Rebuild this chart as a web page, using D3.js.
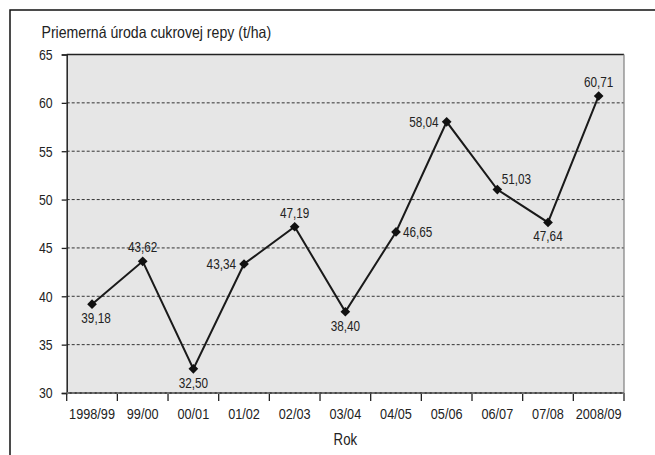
<!DOCTYPE html>
<html><head><meta charset="utf-8">
<script src="https://cdn.jsdelivr.net/npm/d3@7"></script>
<style>
html,body{margin:0;padding:0;background:#fff;overflow:hidden}
svg text{font-family:"Liberation Sans",Arial,sans-serif;fill:#222}
</style></head>
<body><svg id="c" width="655" height="455"></svg>
<script>
const categories = ["1998/99","99/00","00/01","01/02","02/03","03/04","04/05","05/06","06/07","07/08","2008/09"];
const values = [39.18,43.62,32.50,43.34,47.19,38.40,46.65,58.04,51.03,47.64,60.71];
const labelPos = ["below","above","below","left","above","below","right","left","aboveRight","below","above"];
const yTicks = [30,35,40,45,50,55,60,65];
const title = "Priemerná úroda cukrovej repy (t/ha)";
const xTitle = "Rok";

const svg = d3.select("#c");
const L = 66.7, R = 624, T = 54.5, B = 393;

function condense(sel, f){
  sel.each(function(){
    const t = d3.select(this);
    const ax = +t.attr("x") || 0, ay = +t.attr("y") || 0;
    t.attr("transform",`translate(${ax},${ay}) scale(${f},1) translate(${-ax},${-ay})`);
  });
}

svg.append("rect").attr("x",10).attr("y",10).attr("width",700).attr("height",500)
  .attr("fill","none").attr("stroke","#111").attr("stroke-width",1.5);

const x = d3.scaleBand().domain(categories).range([L,R]);
const y = d3.scaleLinear().domain([30,65]).range([B,T]);

svg.append("rect").attr("x",L).attr("y",T).attr("width",R-L).attr("height",B-T).attr("fill","#e6e6e6");

svg.append("g").selectAll("line").data(yTicks.filter(v=>v>30&&v<65)).join("line")
  .attr("x1",L).attr("x2",R).attr("y1",d=>y(d)).attr("y2",d=>y(d))
  .attr("stroke","#333").attr("stroke-width",1).attr("stroke-dasharray","3,2");

svg.append("line").attr("x1",L).attr("x2",R).attr("y1",T).attr("y2",T).attr("stroke","#222").attr("stroke-width",1.3);
svg.append("line").attr("x1",R).attr("x2",R).attr("y1",T).attr("y2",B).attr("stroke","#888").attr("stroke-width",1.3);

const ya = svg.append("g").attr("transform",`translate(${L},0)`)
  .call(d3.axisLeft(y).tickValues(yTicks).tickSize(5).tickPadding(9).tickFormat(d3.format("d")));
ya.select(".domain").attr("stroke","#222").attr("stroke-width",1.5);
ya.selectAll(".tick line").attr("stroke","#222").attr("stroke-width",1.3);
ya.selectAll("text").attr("font-size",15).attr("fill","#222").attr("font-family","Liberation Sans, Arial, sans-serif");
condense(ya.selectAll("text"),0.82);

const xa = svg.append("g").attr("transform",`translate(0,${B})`)
  .call(d3.axisBottom(x).tickSize(0).tickPadding(15));
xa.select(".domain").remove();
xa.selectAll("text").attr("font-size",15.5).attr("fill","#222").attr("font-family","Liberation Sans, Arial, sans-serif");
condense(xa.selectAll("text"),0.82);

const bounds = categories.map(c=>x(c)).concat([x(categories[categories.length-1])+x.bandwidth()]);
svg.append("g").selectAll("line").data(bounds).join("line")
  .attr("x1",d=>d).attr("x2",d=>d).attr("y1",B).attr("y2",B+8)
  .attr("stroke","#222").attr("stroke-width",1.3);
svg.append("line").attr("x1",L).attr("x2",R).attr("y1",B).attr("y2",B)
  .attr("stroke","#444").attr("stroke-width",2);
svg.append("line").attr("x1",L).attr("x2",R).attr("y1",B).attr("y2",B)
  .attr("stroke","#999").attr("stroke-width",1).attr("stroke-dasharray","3,2");

condense(svg.append("text").attr("x",41.5).attr("y",38.5).attr("font-size",16.5).text(title),0.855);
condense(svg.append("text").attr("x",(L+R)/2).attr("y",445).attr("text-anchor","middle").attr("font-size",16.5).text(xTitle),0.8);

const cx = c => x(c)+x.bandwidth()/2;
const line = d3.line().x((d,i)=>cx(categories[i])).y(d=>y(d));
svg.append("path").datum(values).attr("d",line).attr("fill","none")
  .attr("stroke","#1a1a1a").attr("stroke-width",2).attr("stroke-linejoin","miter");

svg.append("g").selectAll("path").data(values).join("path")
  .attr("d",d3.symbol().type(d3.symbolDiamond2).size(60))
  .attr("transform",(d,i)=>`translate(${cx(categories[i])},${y(d)})`)
  .attr("fill","#111");

const fmt = v => v.toFixed(2).replace(".",",");
const lbl = svg.append("g").selectAll("text").data(values).join("text")
  .attr("font-size",14)
  .attr("x",(d,i)=>{const p=labelPos[i],c=cx(categories[i]);
    return p==="left"?c-8:p==="right"?c+7:p==="aboveRight"?c+19:c+(i===0?4:0);})
  .attr("y",(d,i)=>{const p=labelPos[i],v=y(d);
    return p==="below"?v+19:p==="above"?v-9:p==="aboveRight"?v-6:v+5;})
  .attr("text-anchor",(d,i)=>{const p=labelPos[i];return p==="left"?"end":p==="right"?"start":"middle";})
  .text(fmt);
condense(lbl,0.84);
</script></body></html>
